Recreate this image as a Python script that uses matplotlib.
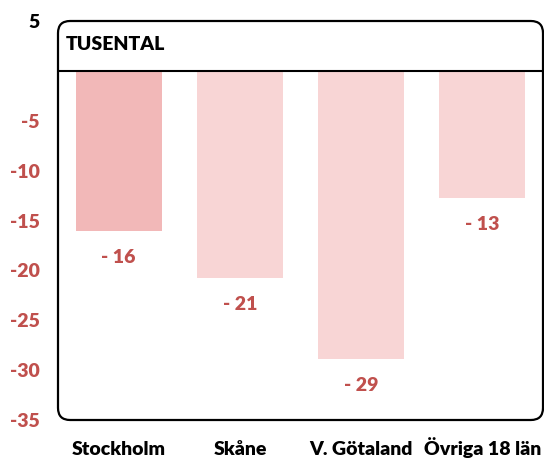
import matplotlib.pyplot as plt
from matplotlib.patches import FancyBboxPatch

regions = ['Stockholm', 'Skåne', 'V. Götaland', 'Övriga 18 län']
values = [-16.07, -20.75, -28.86, -12.71]
labels = ['- 16', '- 21', '- 29', '- 13']
yticks = [5, -5, -10, -15, -20, -25, -30, -35]

red = '#C0504D'
bar_colors = ['#F2B8B8', '#F8D5D5', '#F8D5D5', '#F8D5D5']
wt = 'heavy'

plt.rcParams['font.family'] = ['Lato', 'DejaVu Sans']

fig = plt.figure(figsize=(5.44, 4.59), dpi=100)
ax = fig.add_axes([58 / 544, 1 - 420 / 459, 485 / 544, 399 / 459])

x = range(len(regions))
ax.bar(x, values, width=0.71, color=bar_colors, zorder=1)

for i, (v, lab) in enumerate(zip(values, labels)):
    ax.text(i, v - 2.67, lab, ha='center', va='center', color=red,
            fontsize=14, fontweight=wt)

ax.set_xlim(-0.5, 3.5)
ax.set_ylim(-35, 5)
ax.axhline(0, color='black', lw=1.5, zorder=3)

ax.set_yticks(yticks)
ax.set_yticklabels([str(t) for t in yticks], fontsize=14, fontweight=wt)
for t, lab in zip(yticks, ax.get_yticklabels()):
    lab.set_color('black' if t > 0 else red)
ax.tick_params(axis='y', length=0, pad=13)

# category names on a shared baseline
ax.set_xticks([])
for i, name in enumerate(regions):
    ax.text(i, -0.088, name, transform=ax.get_xaxis_transform(),
            ha='center', va='baseline', fontsize=14, fontweight=wt)

for s in ax.spines.values():
    s.set_visible(False)

box = FancyBboxPatch((0, 0), 1, 1, boxstyle='round,pad=0,rounding_size=0.025',
                     transform=ax.transAxes, mutation_aspect=485 / 399,
                     fill=False, edgecolor='black', lw=1.6, clip_on=False, zorder=4)
ax.add_patch(box)

ax.text(0.017, 2.6, 'TUSENTAL', transform=ax.get_yaxis_transform(),
        ha='left', va='center', fontsize=14, fontweight=wt)

fig.savefig('out.png', dpi=100)
